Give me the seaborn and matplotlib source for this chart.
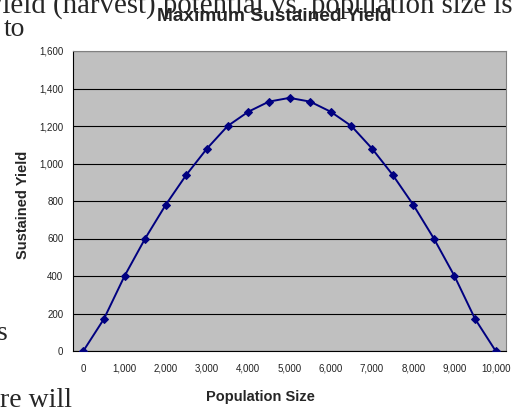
import numpy as np
import pandas as pd
import matplotlib
matplotlib.use("Agg")
import matplotlib.pyplot as plt
import seaborn as sns

# population sizes (x) and the sustained yield (y)
population = [0, 500, 1000, 1500, 2000, 2500, 3000, 3500, 4000, 4500, 5000,
              5500, 6000, 6500, 7000, 7500, 8000, 8500, 9000, 9500, 10000]
sustained_yield = [0, 171, 400, 600, 780, 940, 1080, 1200, 1276, 1330, 1350,
                   1330, 1276, 1200, 1080, 940, 780, 600, 400, 171, 0]
x_tick_values = [0, 1000, 2000, 3000, 4000, 5000, 6000, 7000, 8000, 9000, 10000]
y_tick_values = [0, 200, 400, 600, 800, 1000, 1200, 1400, 1600]

df = pd.DataFrame({"Population Size": population, "Sustained Yield": sustained_yield})

sns.set_style("white")
plt.rcParams["font.family"] = ["Liberation Sans", "DejaVu Sans"]

W, H = 519, 409
fig = plt.figure(figsize=(W / 100, H / 100), dpi=100)
ax = fig.add_axes([73 / W, 1 - 351 / H, (506 - 73) / W, (351 - 51) / H])
ax.set_facecolor("#c0c0c0")

sns.lineplot(
    data=df,
    x="Population Size",
    y="Sustained Yield",
    ax=ax,
    color="#000080",
    linewidth=1.4,
    marker="D",
    markersize=4.5,
    markeredgecolor="#000080",
    zorder=3,
)

# category-style axis: points centred in 500-wide slots
ax.set_xlim(-250, 10250)
ax.set_ylim(0, 1600)
ax.set_xticks(x_tick_values)
ax.set_xticklabels([f"{v:,}" for v in x_tick_values])
ax.set_xticks(np.arange(-250, 10251, 500), minor=True)
ax.tick_params(axis="x", which="major", length=0, pad=9, labelsize=7, colors="#222222")
ax.tick_params(axis="x", which="minor", length=4, width=0.8, color="black", direction="out")
ax.set_yticks(y_tick_values)
ax.set_yticklabels([f"{v:,}" for v in y_tick_values])
ax.tick_params(axis="y", which="major", length=4, width=0.8, color="black",
               direction="out", pad=3, labelsize=7, labelcolor="#222222")

ax.grid(axis="y", color="black", linewidth=0.8)
ax.set_axisbelow(True)
for side in ["left", "bottom"]:
    ax.spines[side].set_color("black")
    ax.spines[side].set_linewidth(0.8)
for side in ["top", "right"]:
    ax.spines[side].set_color("#808080")
    ax.spines[side].set_linewidth(0.8)

ax.set_xlabel("")
ax.set_ylabel("")

# bits of the surrounding document text that show through (drawn first, behind)
serif = ["Liberation Serif", "DejaVu Serif"]
fig.text(513 / W, 1 - 12.7 / H, "yield (harvest) potential vs. population size is",
         ha="right", va="baseline", fontsize=20.8, family=serif)
fig.text(4 / W, 1 - 36 / H, "to", ha="left", va="baseline", fontsize=20, family=serif)
fig.text(8 / W, 1 - 340 / H, "s", ha="right", va="baseline", fontsize=20, family=serif)
fig.text(0, 1 - 407 / H, "re will", ha="left", va="baseline", fontsize=20, family=serif)

# titles placed like the Excel chart
fig.text(274 / W, 1 - 16.7 / H, "Maximum Sustained Yield", ha="center", va="center",
         fontsize=13.8, fontweight="bold")
fig.text(260 / W, 1 - 397 / H, "Population Size", ha="center", va="center",
         fontsize=10.5, fontweight="bold")
fig.text(23 / W, 1 - 205 / H, "Sustained Yield", ha="center", va="center",
         rotation=90, fontsize=10.5, fontweight="bold")

fig.savefig("out.png", dpi=100)
